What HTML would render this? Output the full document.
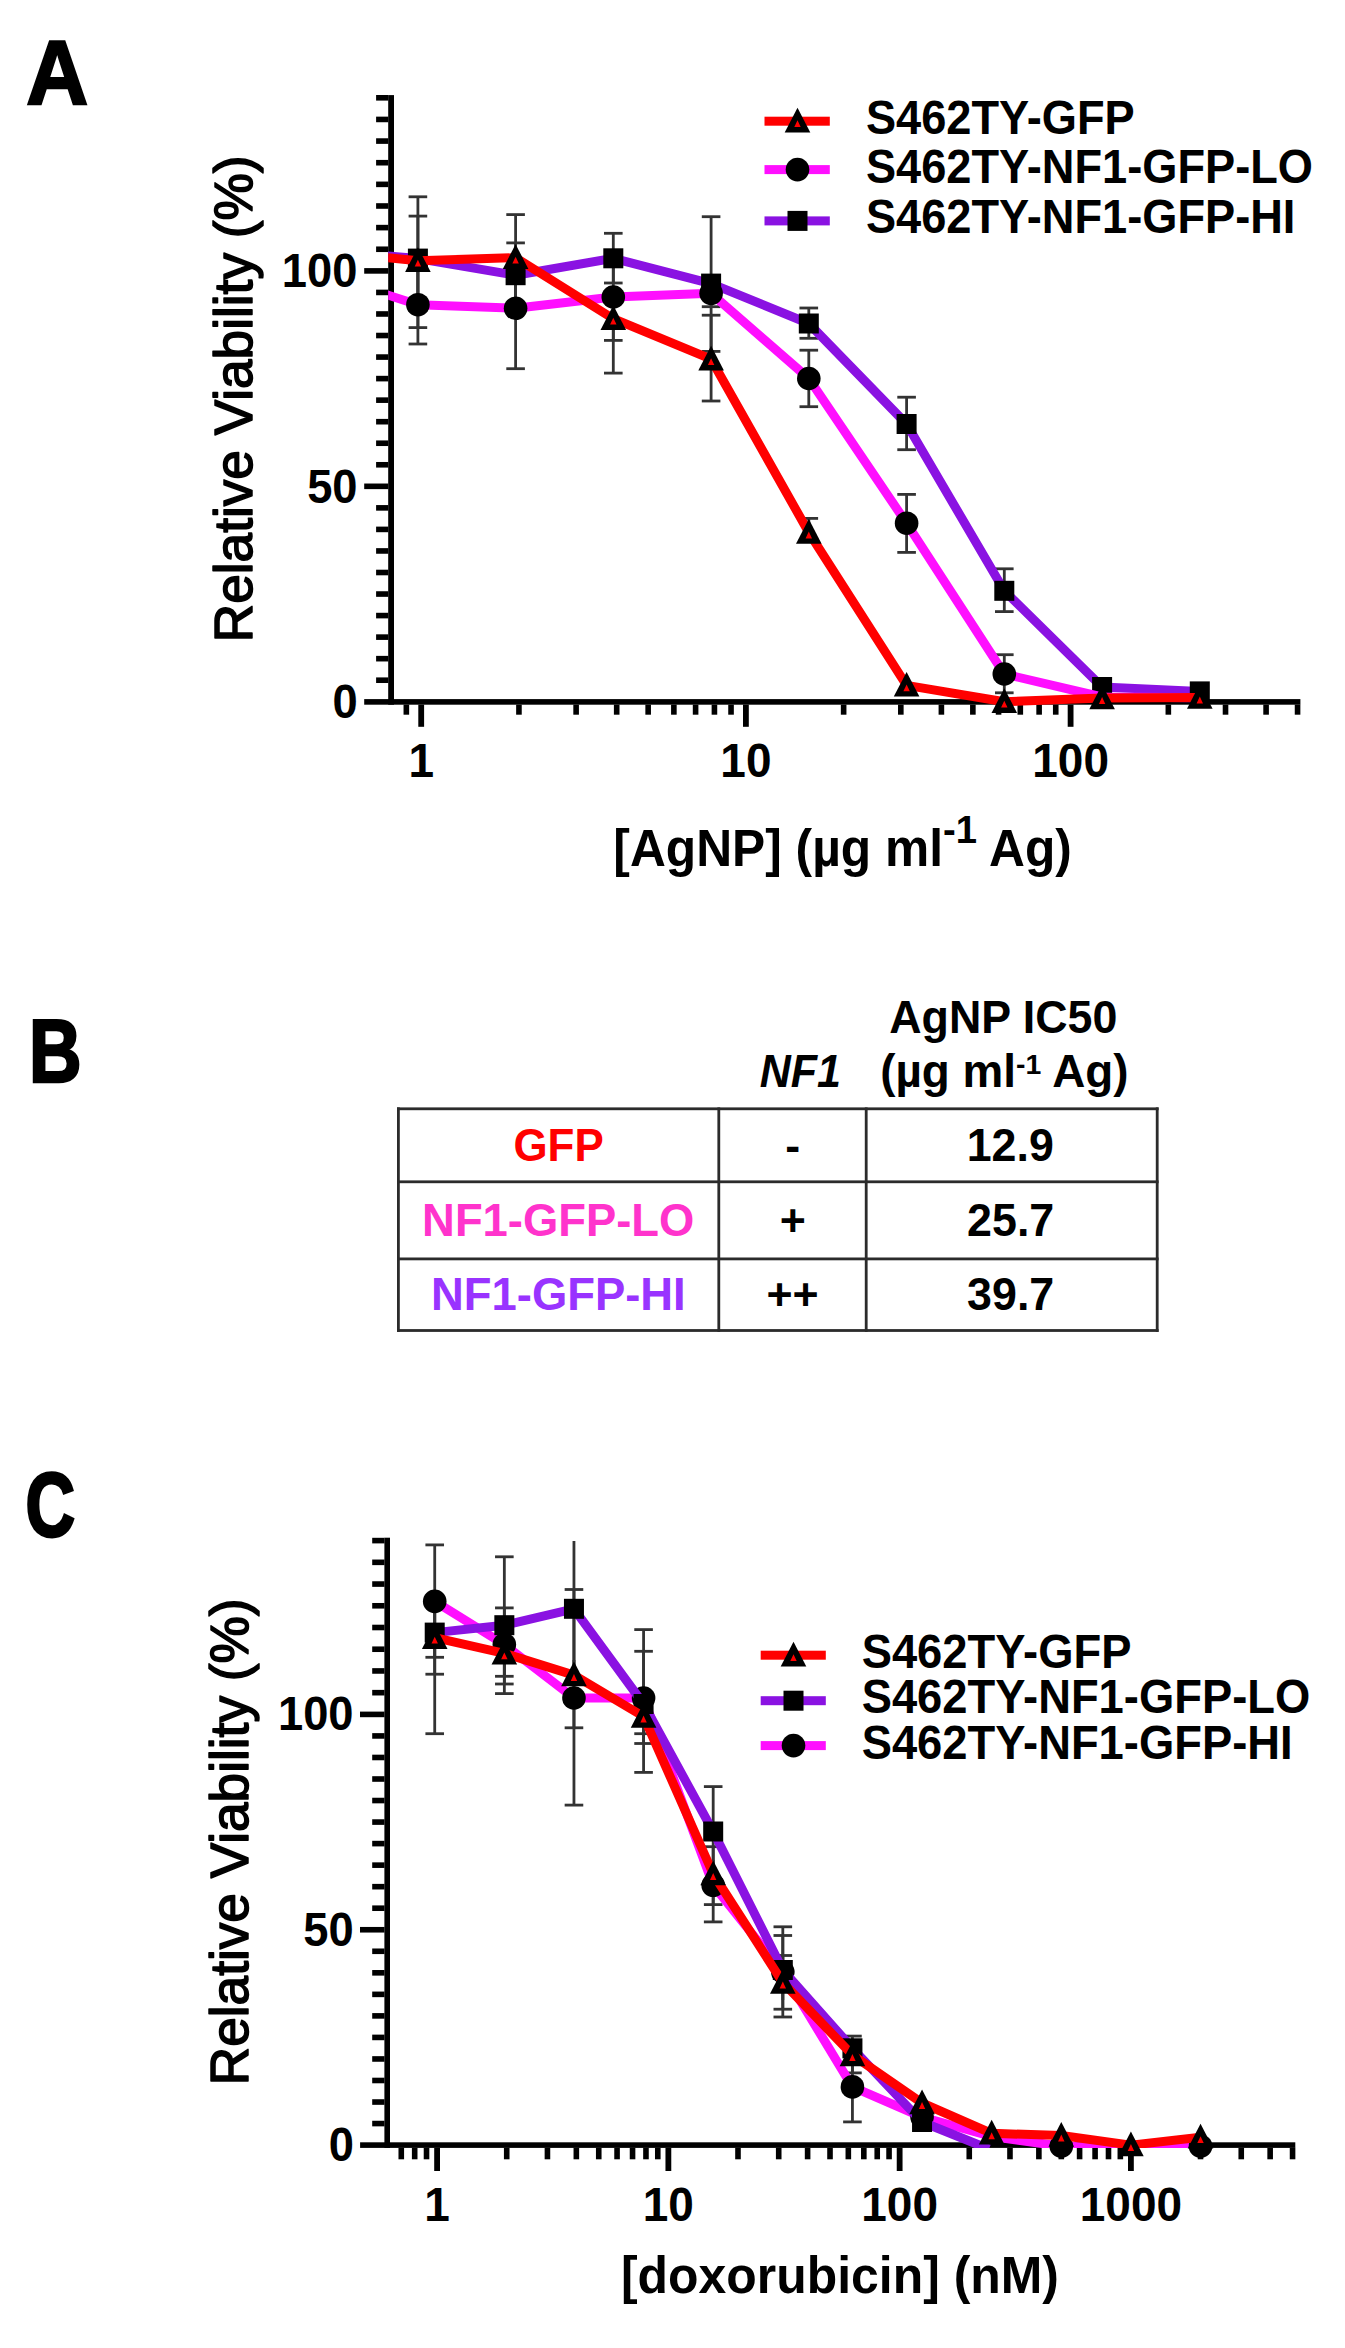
<!DOCTYPE html>
<html lang="en"><head><meta charset="utf-8"><title>Figure</title>
<style>html,body{margin:0;padding:0;background:#fff}svg{display:block}</style></head>
<body>
<svg width="1345" height="2348" viewBox="0 0 1345 2348" font-family="'Liberation Sans', Arial, sans-serif" shape-rendering="auto">
<rect width="1345" height="2348" fill="#fff"/>
<clipPath id="clipA"><rect x="388.2" y="80" width="940" height="640"/></clipPath>
<rect x="388.20" y="95.10" width="5.80" height="609.60" fill="#000"/>
<rect x="364.20" y="699.10" width="936.20" height="5.60" fill="#000"/>
<rect x="376.10" y="677.41" width="12.20" height="5.60" fill="#000"/>
<rect x="376.10" y="655.87" width="12.20" height="5.60" fill="#000"/>
<rect x="376.10" y="634.32" width="12.20" height="5.60" fill="#000"/>
<rect x="376.10" y="612.78" width="12.20" height="5.60" fill="#000"/>
<rect x="376.10" y="591.24" width="12.20" height="5.60" fill="#000"/>
<rect x="376.10" y="569.70" width="12.20" height="5.60" fill="#000"/>
<rect x="376.10" y="548.15" width="12.20" height="5.60" fill="#000"/>
<rect x="376.10" y="526.61" width="12.20" height="5.60" fill="#000"/>
<rect x="376.10" y="505.07" width="12.20" height="5.60" fill="#000"/>
<rect x="364.20" y="483.52" width="24.10" height="5.60" fill="#000"/>
<rect x="376.10" y="461.98" width="12.20" height="5.60" fill="#000"/>
<rect x="376.10" y="440.44" width="12.20" height="5.60" fill="#000"/>
<rect x="376.10" y="418.90" width="12.20" height="5.60" fill="#000"/>
<rect x="376.10" y="397.35" width="12.20" height="5.60" fill="#000"/>
<rect x="376.10" y="375.81" width="12.20" height="5.60" fill="#000"/>
<rect x="376.10" y="354.27" width="12.20" height="5.60" fill="#000"/>
<rect x="376.10" y="332.73" width="12.20" height="5.60" fill="#000"/>
<rect x="376.10" y="311.18" width="12.20" height="5.60" fill="#000"/>
<rect x="376.10" y="289.64" width="12.20" height="5.60" fill="#000"/>
<rect x="364.20" y="268.10" width="24.10" height="5.60" fill="#000"/>
<rect x="376.10" y="246.46" width="12.20" height="5.60" fill="#000"/>
<rect x="376.10" y="224.82" width="12.20" height="5.60" fill="#000"/>
<rect x="376.10" y="203.19" width="12.20" height="5.60" fill="#000"/>
<rect x="376.10" y="181.55" width="12.20" height="5.60" fill="#000"/>
<rect x="376.10" y="159.91" width="12.20" height="5.60" fill="#000"/>
<rect x="376.10" y="138.27" width="12.20" height="5.60" fill="#000"/>
<rect x="376.10" y="116.64" width="12.20" height="5.60" fill="#000"/>
<rect x="376.10" y="95.00" width="12.20" height="5.60" fill="#000"/>
<rect x="418.30" y="704.60" width="5.80" height="22.20" fill="#000"/>
<rect x="516.14" y="704.60" width="5.60" height="10.10" fill="#000"/>
<rect x="573.32" y="704.60" width="5.60" height="10.10" fill="#000"/>
<rect x="613.89" y="704.60" width="5.60" height="10.10" fill="#000"/>
<rect x="645.36" y="704.60" width="5.60" height="10.10" fill="#000"/>
<rect x="671.07" y="704.60" width="5.60" height="10.10" fill="#000"/>
<rect x="692.80" y="704.60" width="5.60" height="10.10" fill="#000"/>
<rect x="711.63" y="704.60" width="5.60" height="10.10" fill="#000"/>
<rect x="728.24" y="704.60" width="5.60" height="10.10" fill="#000"/>
<rect x="743.00" y="704.60" width="5.80" height="22.20" fill="#000"/>
<rect x="840.84" y="704.60" width="5.60" height="10.10" fill="#000"/>
<rect x="898.02" y="704.60" width="5.60" height="10.10" fill="#000"/>
<rect x="938.59" y="704.60" width="5.60" height="10.10" fill="#000"/>
<rect x="970.06" y="704.60" width="5.60" height="10.10" fill="#000"/>
<rect x="995.77" y="704.60" width="5.60" height="10.10" fill="#000"/>
<rect x="1017.50" y="704.60" width="5.60" height="10.10" fill="#000"/>
<rect x="1036.33" y="704.60" width="5.60" height="10.10" fill="#000"/>
<rect x="1052.94" y="704.60" width="5.60" height="10.10" fill="#000"/>
<rect x="1067.70" y="704.60" width="5.80" height="22.20" fill="#000"/>
<rect x="1165.54" y="704.60" width="5.60" height="10.10" fill="#000"/>
<rect x="1222.72" y="704.60" width="5.60" height="10.10" fill="#000"/>
<rect x="1263.29" y="704.60" width="5.60" height="10.10" fill="#000"/>
<rect x="1294.76" y="704.60" width="5.60" height="10.10" fill="#000"/>
<rect x="403.54" y="704.60" width="5.60" height="10.10" fill="#000"/>
<rect x="416.50" y="216.10" width="2.8" height="84.90" fill="#333333"/>
<rect x="408.60" y="214.70" width="18.6" height="2.8" fill="#333333"/>
<rect x="514.20" y="242.90" width="2.8" height="64.10" fill="#333333"/>
<rect x="506.30" y="241.50" width="18.6" height="2.8" fill="#333333"/>
<rect x="506.30" y="305.60" width="18.6" height="2.8" fill="#333333"/>
<rect x="611.90" y="233.30" width="2.8" height="49.70" fill="#333333"/>
<rect x="604.00" y="231.90" width="18.6" height="2.8" fill="#333333"/>
<rect x="604.00" y="281.60" width="18.6" height="2.8" fill="#333333"/>
<rect x="709.70" y="216.70" width="2.8" height="134.70" fill="#333333"/>
<rect x="701.80" y="215.30" width="18.6" height="2.8" fill="#333333"/>
<rect x="701.80" y="350.00" width="18.6" height="2.8" fill="#333333"/>
<rect x="807.40" y="308.00" width="2.8" height="30.30" fill="#333333"/>
<rect x="799.50" y="306.60" width="18.6" height="2.8" fill="#333333"/>
<rect x="799.50" y="336.90" width="18.6" height="2.8" fill="#333333"/>
<rect x="905.20" y="397.20" width="2.8" height="52.50" fill="#333333"/>
<rect x="897.30" y="395.80" width="18.6" height="2.8" fill="#333333"/>
<rect x="897.30" y="448.30" width="18.6" height="2.8" fill="#333333"/>
<rect x="1002.90" y="568.80" width="2.8" height="42.80" fill="#333333"/>
<rect x="995.00" y="567.40" width="18.6" height="2.8" fill="#333333"/>
<rect x="995.00" y="610.20" width="18.6" height="2.8" fill="#333333"/>
<rect x="416.50" y="265.00" width="2.8" height="79.00" fill="#333333"/>
<rect x="408.60" y="342.60" width="18.6" height="2.8" fill="#333333"/>
<rect x="514.20" y="248.00" width="2.8" height="120.70" fill="#333333"/>
<rect x="506.30" y="367.30" width="18.6" height="2.8" fill="#333333"/>
<rect x="611.90" y="260.00" width="2.8" height="80.40" fill="#333333"/>
<rect x="604.00" y="339.00" width="18.6" height="2.8" fill="#333333"/>
<rect x="709.70" y="280.00" width="2.8" height="26.70" fill="#333333"/>
<rect x="701.80" y="305.30" width="18.6" height="2.8" fill="#333333"/>
<rect x="807.40" y="350.20" width="2.8" height="56.50" fill="#333333"/>
<rect x="799.50" y="348.80" width="18.6" height="2.8" fill="#333333"/>
<rect x="799.50" y="405.30" width="18.6" height="2.8" fill="#333333"/>
<rect x="905.20" y="494.40" width="2.8" height="58.00" fill="#333333"/>
<rect x="897.30" y="493.00" width="18.6" height="2.8" fill="#333333"/>
<rect x="897.30" y="551.00" width="18.6" height="2.8" fill="#333333"/>
<rect x="1002.90" y="654.70" width="2.8" height="38.10" fill="#333333"/>
<rect x="995.00" y="653.30" width="18.6" height="2.8" fill="#333333"/>
<rect x="995.00" y="691.40" width="18.6" height="2.8" fill="#333333"/>
<rect x="416.50" y="196.80" width="2.8" height="130.80" fill="#333333"/>
<rect x="408.60" y="195.40" width="18.6" height="2.8" fill="#333333"/>
<rect x="408.60" y="326.20" width="18.6" height="2.8" fill="#333333"/>
<rect x="514.20" y="214.60" width="2.8" height="85.40" fill="#333333"/>
<rect x="506.30" y="213.20" width="18.6" height="2.8" fill="#333333"/>
<rect x="611.90" y="300.00" width="2.8" height="73.10" fill="#333333"/>
<rect x="604.00" y="371.70" width="18.6" height="2.8" fill="#333333"/>
<rect x="709.70" y="315.20" width="2.8" height="85.80" fill="#333333"/>
<rect x="701.80" y="313.80" width="18.6" height="2.8" fill="#333333"/>
<rect x="701.80" y="399.60" width="18.6" height="2.8" fill="#333333"/>
<rect x="807.40" y="518.40" width="2.8" height="21.60" fill="#333333"/>
<rect x="799.50" y="517.00" width="18.6" height="2.8" fill="#333333"/>
<polyline points="320.00,250.00 417.90,258.60 515.60,275.20 613.30,258.30 711.10,283.60 808.80,323.50 906.60,424.00 1004.30,590.80 1102.10,687.00 1199.80,691.40" fill="none" stroke="#8a12e2" stroke-width="9" stroke-linejoin="round" stroke-linecap="butt" clip-path="url(#clipA)"/>
<rect x="407.90" y="248.60" width="20" height="20" fill="#000"/>
<rect x="505.60" y="265.20" width="20" height="20" fill="#000"/>
<rect x="603.30" y="248.30" width="20" height="20" fill="#000"/>
<rect x="701.10" y="273.60" width="20" height="20" fill="#000"/>
<rect x="798.80" y="313.50" width="20" height="20" fill="#000"/>
<rect x="896.60" y="414.00" width="20" height="20" fill="#000"/>
<rect x="994.30" y="580.80" width="20" height="20" fill="#000"/>
<rect x="1092.10" y="677.00" width="20" height="20" fill="#000"/>
<rect x="1189.80" y="681.40" width="20" height="20" fill="#000"/>
<polyline points="320.00,273.30 417.90,304.70 515.60,308.30 613.30,297.00 711.10,293.30 808.80,378.50 906.60,523.20 1004.30,674.00 1102.10,697.00 1199.80,697.80" fill="none" stroke="#ff0fff" stroke-width="9" stroke-linejoin="round" stroke-linecap="butt" clip-path="url(#clipA)"/>
<circle cx="417.90" cy="304.70" r="11.8" fill="#000"/>
<circle cx="515.60" cy="308.30" r="11.8" fill="#000"/>
<circle cx="613.30" cy="297.00" r="11.8" fill="#000"/>
<circle cx="711.10" cy="293.30" r="11.8" fill="#000"/>
<circle cx="808.80" cy="378.50" r="11.8" fill="#000"/>
<circle cx="906.60" cy="523.20" r="11.8" fill="#000"/>
<circle cx="1004.30" cy="674.00" r="11.8" fill="#000"/>
<polyline points="320.00,251.00 417.90,260.70 515.60,257.70 613.30,318.70 711.10,359.20 808.80,532.50 906.60,685.40 1004.30,701.70 1102.10,698.00 1199.80,697.50" fill="none" stroke="#ff0000" stroke-width="9" stroke-linejoin="round" stroke-linecap="butt" clip-path="url(#clipA)"/>
<polygon points="417.90,247.20 430.70,271.90 405.10,271.90" fill="#000"/>
<polygon points="417.90,259.70 421.10,266.60 414.70,266.60" fill="#ff0000"/>
<polygon points="515.60,244.20 528.40,268.90 502.80,268.90" fill="#000"/>
<polygon points="515.60,256.70 518.80,263.60 512.40,263.60" fill="#ff0000"/>
<polygon points="613.30,305.20 626.10,329.90 600.50,329.90" fill="#000"/>
<polygon points="613.30,317.70 616.50,324.60 610.10,324.60" fill="#ff0000"/>
<polygon points="711.10,345.70 723.90,370.40 698.30,370.40" fill="#000"/>
<polygon points="711.10,358.20 714.30,365.10 707.90,365.10" fill="#ff0000"/>
<polygon points="808.80,519.00 821.60,543.70 796.00,543.70" fill="#000"/>
<polygon points="808.80,531.50 812.00,538.40 805.60,538.40" fill="#ff0000"/>
<polygon points="906.60,671.90 919.40,696.60 893.80,696.60" fill="#000"/>
<polygon points="906.60,684.40 909.80,691.30 903.40,691.30" fill="#ff0000"/>
<polygon points="1004.30,688.20 1017.10,712.90 991.50,712.90" fill="#000"/>
<polygon points="1004.30,700.70 1007.50,707.60 1001.10,707.60" fill="#ff0000"/>
<polygon points="1102.10,684.50 1114.90,709.20 1089.30,709.20" fill="#000"/>
<polygon points="1102.10,697.00 1105.30,703.90 1098.90,703.90" fill="#ff0000"/>
<polygon points="1199.80,684.00 1212.60,708.70 1187.00,708.70" fill="#000"/>
<polygon points="1199.80,696.50 1203.00,703.40 1196.60,703.40" fill="#ff0000"/>
<rect x="764.50" y="116.70" width="65.30" height="9.00" fill="#ff0000"/>
<polygon points="797.50,107.70 810.30,132.40 784.70,132.40" fill="#000"/>
<polygon points="797.50,120.20 800.70,127.10 794.30,127.10" fill="#ff0000"/>
<rect x="764.50" y="165.10" width="65.30" height="9.00" fill="#ff0fff"/>
<circle cx="797.50" cy="169.60" r="11.8" fill="#000"/>
<rect x="764.50" y="216.40" width="65.30" height="9.00" fill="#8a12e2"/>
<rect x="787.50" y="210.90" width="20" height="20" fill="#000"/>
<rect x="397.00" y="1107.40" width="2.80" height="224.50" fill="#2b2b2b"/>
<rect x="717.40" y="1107.40" width="2.80" height="224.50" fill="#2b2b2b"/>
<rect x="864.80" y="1107.40" width="2.80" height="224.50" fill="#2b2b2b"/>
<rect x="1155.80" y="1107.40" width="2.80" height="224.50" fill="#2b2b2b"/>
<rect x="397.00" y="1107.40" width="761.60" height="2.80" fill="#2b2b2b"/>
<rect x="397.00" y="1180.40" width="761.60" height="2.80" fill="#2b2b2b"/>
<rect x="397.00" y="1257.50" width="761.60" height="2.80" fill="#2b2b2b"/>
<rect x="397.00" y="1329.10" width="761.60" height="2.80" fill="#2b2b2b"/>
<clipPath id="clipC"><rect x="384" y="1500" width="940" height="648"/></clipPath>
<rect x="384.40" y="1537.70" width="5.60" height="610.20" fill="#000"/>
<rect x="360.10" y="2142.30" width="935.20" height="5.60" fill="#000"/>
<rect x="372.20" y="2120.76" width="12.30" height="5.60" fill="#000"/>
<rect x="372.20" y="2099.23" width="12.30" height="5.60" fill="#000"/>
<rect x="372.20" y="2077.69" width="12.30" height="5.60" fill="#000"/>
<rect x="372.20" y="2056.16" width="12.30" height="5.60" fill="#000"/>
<rect x="372.20" y="2034.62" width="12.30" height="5.60" fill="#000"/>
<rect x="372.20" y="2013.09" width="12.30" height="5.60" fill="#000"/>
<rect x="372.20" y="1991.56" width="12.30" height="5.60" fill="#000"/>
<rect x="372.20" y="1970.02" width="12.30" height="5.60" fill="#000"/>
<rect x="372.20" y="1948.48" width="12.30" height="5.60" fill="#000"/>
<rect x="360.00" y="1926.95" width="24.50" height="5.60" fill="#000"/>
<rect x="372.20" y="1905.41" width="12.30" height="5.60" fill="#000"/>
<rect x="372.20" y="1883.88" width="12.30" height="5.60" fill="#000"/>
<rect x="372.20" y="1862.35" width="12.30" height="5.60" fill="#000"/>
<rect x="372.20" y="1840.81" width="12.30" height="5.60" fill="#000"/>
<rect x="372.20" y="1819.27" width="12.30" height="5.60" fill="#000"/>
<rect x="372.20" y="1797.74" width="12.30" height="5.60" fill="#000"/>
<rect x="372.20" y="1776.20" width="12.30" height="5.60" fill="#000"/>
<rect x="372.20" y="1754.67" width="12.30" height="5.60" fill="#000"/>
<rect x="372.20" y="1733.13" width="12.30" height="5.60" fill="#000"/>
<rect x="360.00" y="1711.60" width="24.50" height="5.60" fill="#000"/>
<rect x="372.20" y="1689.88" width="12.30" height="5.60" fill="#000"/>
<rect x="372.20" y="1668.15" width="12.30" height="5.60" fill="#000"/>
<rect x="372.20" y="1646.43" width="12.30" height="5.60" fill="#000"/>
<rect x="372.20" y="1624.70" width="12.30" height="5.60" fill="#000"/>
<rect x="372.20" y="1602.98" width="12.30" height="5.60" fill="#000"/>
<rect x="372.20" y="1581.25" width="12.30" height="5.60" fill="#000"/>
<rect x="372.20" y="1559.53" width="12.30" height="5.60" fill="#000"/>
<rect x="372.20" y="1537.80" width="12.30" height="5.60" fill="#000"/>
<rect x="434.20" y="2147.80" width="5.80" height="23.20" fill="#000"/>
<rect x="503.92" y="2147.80" width="5.60" height="11.50" fill="#000"/>
<rect x="544.64" y="2147.80" width="5.60" height="11.50" fill="#000"/>
<rect x="573.54" y="2147.80" width="5.60" height="11.50" fill="#000"/>
<rect x="595.95" y="2147.80" width="5.60" height="11.50" fill="#000"/>
<rect x="614.26" y="2147.80" width="5.60" height="11.50" fill="#000"/>
<rect x="629.75" y="2147.80" width="5.60" height="11.50" fill="#000"/>
<rect x="643.16" y="2147.80" width="5.60" height="11.50" fill="#000"/>
<rect x="654.99" y="2147.80" width="5.60" height="11.50" fill="#000"/>
<rect x="665.47" y="2147.80" width="5.80" height="23.20" fill="#000"/>
<rect x="735.19" y="2147.80" width="5.60" height="11.50" fill="#000"/>
<rect x="775.91" y="2147.80" width="5.60" height="11.50" fill="#000"/>
<rect x="804.81" y="2147.80" width="5.60" height="11.50" fill="#000"/>
<rect x="827.22" y="2147.80" width="5.60" height="11.50" fill="#000"/>
<rect x="845.53" y="2147.80" width="5.60" height="11.50" fill="#000"/>
<rect x="861.02" y="2147.80" width="5.60" height="11.50" fill="#000"/>
<rect x="874.43" y="2147.80" width="5.60" height="11.50" fill="#000"/>
<rect x="886.26" y="2147.80" width="5.60" height="11.50" fill="#000"/>
<rect x="896.74" y="2147.80" width="5.80" height="23.20" fill="#000"/>
<rect x="966.46" y="2147.80" width="5.60" height="11.50" fill="#000"/>
<rect x="1007.18" y="2147.80" width="5.60" height="11.50" fill="#000"/>
<rect x="1036.08" y="2147.80" width="5.60" height="11.50" fill="#000"/>
<rect x="1058.49" y="2147.80" width="5.60" height="11.50" fill="#000"/>
<rect x="1076.80" y="2147.80" width="5.60" height="11.50" fill="#000"/>
<rect x="1092.29" y="2147.80" width="5.60" height="11.50" fill="#000"/>
<rect x="1105.70" y="2147.80" width="5.60" height="11.50" fill="#000"/>
<rect x="1117.53" y="2147.80" width="5.60" height="11.50" fill="#000"/>
<rect x="1128.01" y="2147.80" width="5.80" height="23.20" fill="#000"/>
<rect x="1197.73" y="2147.80" width="5.60" height="11.50" fill="#000"/>
<rect x="1238.45" y="2147.80" width="5.60" height="11.50" fill="#000"/>
<rect x="1267.35" y="2147.80" width="5.60" height="11.50" fill="#000"/>
<rect x="1289.76" y="2147.80" width="5.60" height="11.50" fill="#000"/>
<rect x="398.48" y="2147.80" width="5.60" height="11.50" fill="#000"/>
<rect x="411.89" y="2147.80" width="5.60" height="11.50" fill="#000"/>
<rect x="423.72" y="2147.80" width="5.60" height="11.50" fill="#000"/>
<rect x="433.32" y="1544.90" width="2.8" height="112.40" fill="#333333"/>
<rect x="425.42" y="1543.50" width="18.6" height="2.8" fill="#333333"/>
<rect x="425.42" y="1655.90" width="18.6" height="2.8" fill="#333333"/>
<rect x="502.94" y="1607.90" width="2.8" height="76.10" fill="#333333"/>
<rect x="495.04" y="1606.50" width="18.6" height="2.8" fill="#333333"/>
<rect x="495.04" y="1682.60" width="18.6" height="2.8" fill="#333333"/>
<rect x="572.56" y="1589.50" width="2.8" height="215.60" fill="#333333"/>
<rect x="564.66" y="1588.10" width="18.6" height="2.8" fill="#333333"/>
<rect x="564.66" y="1803.70" width="18.6" height="2.8" fill="#333333"/>
<rect x="642.18" y="1629.60" width="2.8" height="142.80" fill="#333333"/>
<rect x="634.28" y="1628.20" width="18.6" height="2.8" fill="#333333"/>
<rect x="634.28" y="1771.00" width="18.6" height="2.8" fill="#333333"/>
<rect x="711.79" y="1846.70" width="2.8" height="75.20" fill="#333333"/>
<rect x="703.89" y="1845.30" width="18.6" height="2.8" fill="#333333"/>
<rect x="703.89" y="1920.50" width="18.6" height="2.8" fill="#333333"/>
<rect x="781.41" y="1926.80" width="2.8" height="90.20" fill="#333333"/>
<rect x="773.51" y="1925.40" width="18.6" height="2.8" fill="#333333"/>
<rect x="773.51" y="2015.60" width="18.6" height="2.8" fill="#333333"/>
<rect x="851.03" y="2050.00" width="2.8" height="71.90" fill="#333333"/>
<rect x="843.13" y="2120.50" width="18.6" height="2.8" fill="#333333"/>
<rect x="433.32" y="1600.00" width="2.8" height="74.20" fill="#333333"/>
<rect x="425.42" y="1672.80" width="18.6" height="2.8" fill="#333333"/>
<rect x="502.94" y="1556.80" width="2.8" height="136.80" fill="#333333"/>
<rect x="495.04" y="1555.40" width="18.6" height="2.8" fill="#333333"/>
<rect x="495.04" y="1692.20" width="18.6" height="2.8" fill="#333333"/>
<rect x="572.56" y="1541.00" width="2.8" height="139.00" fill="#333333"/>
<rect x="642.18" y="1651.30" width="2.8" height="92.20" fill="#333333"/>
<rect x="634.28" y="1649.90" width="18.6" height="2.8" fill="#333333"/>
<rect x="634.28" y="1742.10" width="18.6" height="2.8" fill="#333333"/>
<rect x="711.79" y="1786.60" width="2.8" height="83.40" fill="#333333"/>
<rect x="703.89" y="1785.20" width="18.6" height="2.8" fill="#333333"/>
<rect x="781.41" y="1935.50" width="2.8" height="73.70" fill="#333333"/>
<rect x="773.51" y="1934.10" width="18.6" height="2.8" fill="#333333"/>
<rect x="773.51" y="2007.80" width="18.6" height="2.8" fill="#333333"/>
<rect x="851.03" y="2036.10" width="2.8" height="23.90" fill="#333333"/>
<rect x="843.13" y="2034.70" width="18.6" height="2.8" fill="#333333"/>
<rect x="433.32" y="1600.00" width="2.8" height="133.70" fill="#333333"/>
<rect x="425.42" y="1732.30" width="18.6" height="2.8" fill="#333333"/>
<rect x="502.94" y="1630.00" width="2.8" height="46.30" fill="#333333"/>
<rect x="495.04" y="1674.90" width="18.6" height="2.8" fill="#333333"/>
<rect x="572.56" y="1660.00" width="2.8" height="67.80" fill="#333333"/>
<rect x="564.66" y="1726.40" width="18.6" height="2.8" fill="#333333"/>
<rect x="642.18" y="1700.00" width="2.8" height="33.70" fill="#333333"/>
<rect x="634.28" y="1732.30" width="18.6" height="2.8" fill="#333333"/>
<rect x="711.79" y="1860.00" width="2.8" height="44.60" fill="#333333"/>
<rect x="703.89" y="1903.20" width="18.6" height="2.8" fill="#333333"/>
<rect x="781.41" y="1955.50" width="2.8" height="44.50" fill="#333333"/>
<rect x="773.51" y="1954.10" width="18.6" height="2.8" fill="#333333"/>
<rect x="851.03" y="2050.00" width="2.8" height="22.90" fill="#333333"/>
<rect x="843.13" y="2071.50" width="18.6" height="2.8" fill="#333333"/>
<polyline points="434.72,1601.40 504.34,1644.50 573.96,1698.00 643.58,1698.00 713.19,1885.30 782.81,1972.00 852.43,2086.90 922.05,2117.00 991.67,2136.50 1061.29,2146.20 1130.91,2148.00 1200.53,2146.20" fill="none" stroke="#ff0fff" stroke-width="9" stroke-linejoin="round" stroke-linecap="butt" clip-path="url(#clipC)"/>
<circle cx="434.72" cy="1601.40" r="11.8" fill="#000"/>
<circle cx="504.34" cy="1644.50" r="11.8" fill="#000"/>
<circle cx="573.96" cy="1698.00" r="11.8" fill="#000"/>
<circle cx="643.58" cy="1698.00" r="11.8" fill="#000"/>
<circle cx="713.19" cy="1885.30" r="11.8" fill="#000"/>
<circle cx="782.81" cy="1972.00" r="11.8" fill="#000"/>
<circle cx="852.43" cy="2086.90" r="11.8" fill="#000"/>
<circle cx="922.05" cy="2117.00" r="11.8" fill="#000"/>
<circle cx="1061.29" cy="2146.20" r="11.8" fill="#000"/>
<circle cx="1200.53" cy="2146.20" r="11.8" fill="#000"/>
<polyline points="434.72,1632.60 504.34,1625.20 573.96,1608.80 643.58,1704.00 713.19,1831.50 782.81,1970.00 852.43,2048.30 922.05,2122.00 989.00,2149.00" fill="none" stroke="#8a12e2" stroke-width="9" stroke-linejoin="round" stroke-linecap="butt" clip-path="url(#clipC)"/>
<rect x="424.72" y="1622.60" width="20" height="20" fill="#000"/>
<rect x="494.34" y="1615.20" width="20" height="20" fill="#000"/>
<rect x="563.96" y="1598.80" width="20" height="20" fill="#000"/>
<rect x="633.58" y="1694.00" width="20" height="20" fill="#000"/>
<rect x="703.19" y="1821.50" width="20" height="20" fill="#000"/>
<rect x="772.81" y="1960.00" width="20" height="20" fill="#000"/>
<rect x="842.43" y="2038.30" width="20" height="20" fill="#000"/>
<rect x="912.05" y="2112.00" width="20" height="20" fill="#000"/>
<polyline points="434.72,1637.70 504.34,1653.40 573.96,1675.10 643.58,1716.50 713.19,1874.00 782.81,1982.50 852.43,2055.00 922.05,2103.00 991.67,2133.30 1061.29,2135.50 1130.91,2145.10 1200.53,2137.20" fill="none" stroke="#ff0000" stroke-width="9" stroke-linejoin="round" stroke-linecap="butt" clip-path="url(#clipC)"/>
<polygon points="434.72,1624.20 447.52,1648.90 421.92,1648.90" fill="#000"/>
<polygon points="434.72,1636.70 437.92,1643.60 431.52,1643.60" fill="#ff0000"/>
<polygon points="504.34,1639.90 517.14,1664.60 491.54,1664.60" fill="#000"/>
<polygon points="504.34,1652.40 507.54,1659.30 501.14,1659.30" fill="#ff0000"/>
<polygon points="573.96,1661.60 586.76,1686.30 561.16,1686.30" fill="#000"/>
<polygon points="573.96,1674.10 577.16,1681.00 570.76,1681.00" fill="#ff0000"/>
<polygon points="643.58,1703.00 656.38,1727.70 630.78,1727.70" fill="#000"/>
<polygon points="643.58,1715.50 646.78,1722.40 640.38,1722.40" fill="#ff0000"/>
<polygon points="713.19,1860.50 725.99,1885.20 700.39,1885.20" fill="#000"/>
<polygon points="713.19,1873.00 716.39,1879.90 709.99,1879.90" fill="#ff0000"/>
<polygon points="782.81,1969.00 795.61,1993.70 770.01,1993.70" fill="#000"/>
<polygon points="782.81,1981.50 786.01,1988.40 779.61,1988.40" fill="#ff0000"/>
<polygon points="852.43,2041.50 865.23,2066.20 839.63,2066.20" fill="#000"/>
<polygon points="852.43,2054.00 855.63,2060.90 849.23,2060.90" fill="#ff0000"/>
<polygon points="922.05,2089.50 934.85,2114.20 909.25,2114.20" fill="#000"/>
<polygon points="922.05,2102.00 925.25,2108.90 918.85,2108.90" fill="#ff0000"/>
<polygon points="991.67,2119.80 1004.47,2144.50 978.87,2144.50" fill="#000"/>
<polygon points="991.67,2132.30 994.87,2139.20 988.47,2139.20" fill="#ff0000"/>
<polygon points="1061.29,2122.00 1074.09,2146.70 1048.49,2146.70" fill="#000"/>
<polygon points="1061.29,2134.50 1064.49,2141.40 1058.09,2141.40" fill="#ff0000"/>
<polygon points="1130.91,2131.60 1143.71,2156.30 1118.11,2156.30" fill="#000"/>
<polygon points="1130.91,2144.10 1134.11,2151.00 1127.71,2151.00" fill="#ff0000"/>
<polygon points="1200.53,2123.70 1213.33,2148.40 1187.73,2148.40" fill="#000"/>
<polygon points="1200.53,2136.20 1203.73,2143.10 1197.33,2143.10" fill="#ff0000"/>
<rect x="760.70" y="1650.70" width="65.10" height="9.00" fill="#ff0000"/>
<polygon points="793.50,1641.70 806.30,1666.40 780.70,1666.40" fill="#000"/>
<polygon points="793.50,1654.20 796.70,1661.10 790.30,1661.10" fill="#ff0000"/>
<rect x="760.70" y="1696.20" width="65.10" height="9.00" fill="#8a12e2"/>
<rect x="783.50" y="1690.70" width="20" height="20" fill="#000"/>
<rect x="760.70" y="1741.10" width="65.10" height="9.00" fill="#ff0fff"/>
<circle cx="793.50" cy="1745.60" r="11.8" fill="#000"/>
<text transform="translate(865.94,134.40) scale(1,1.0770)" font-size="45.21" font-weight="bold" font-style="normal" fill="#000" >S462TY-GFP</text>
<text transform="translate(865.94,182.80) scale(1,1.0770)" font-size="45.21" font-weight="bold" font-style="normal" fill="#000" >S462TY-NF1-GFP-LO</text>
<text transform="translate(865.94,233.40) scale(1,1.0770)" font-size="45.21" font-weight="bold" font-style="normal" fill="#000" >S462TY-NF1-GFP-HI</text>
<text transform="translate(281.76,286.80) scale(1,1.0558)" font-size="45.30" font-weight="bold" font-style="normal" fill="#000" >100</text>
<text transform="translate(307.13,502.72) scale(1,1.0558)" font-size="45.30" font-weight="bold" font-style="normal" fill="#000" >50</text>
<text transform="translate(332.50,718.15) scale(1,1.0558)" font-size="45.30" font-weight="bold" font-style="normal" fill="#000" >0</text>
<text transform="translate(408.41,777.00) scale(1,1.0491)" font-size="46.00" font-weight="bold" font-style="normal" fill="#000" >1</text>
<text transform="translate(720.32,777.00) scale(1,1.0491)" font-size="46.00" font-weight="bold" font-style="normal" fill="#000" >10</text>
<text transform="translate(1032.24,777.00) scale(1,1.0491)" font-size="46.00" font-weight="bold" font-style="normal" fill="#000" >100</text>
<text transform="translate(251.60,642.26) rotate(-90) scale(1,1.0000)" font-size="53.20" font-weight="normal" font-style="normal" fill="#000" stroke="#000" stroke-width="1.5" stroke-linejoin="round">Relative Viability (%)</text>
<text transform="translate(613.32,866.40) scale(1,1.0347)" font-size="49.73" font-weight="bold" font-style="normal" fill="#000" >[AgNP] (µg ml<tspan font-size="38.29" dy="-22.87">-1</tspan><tspan dy="22.87"> Ag)</tspan></text>
<text transform="translate(513.44,1160.80) scale(1,1.0390)" font-size="43.94" font-weight="bold" font-style="normal" fill="#ff0000" >GFP</text>
<text transform="translate(422.12,1235.80) scale(1,1.0063)" font-size="45.37" font-weight="bold" font-style="normal" fill="#ff33cc" >NF1-GFP-LO</text>
<text transform="translate(431.02,1310.20) scale(1,1.0053)" font-size="45.41" font-weight="bold" font-style="normal" fill="#9933ff" >NF1-GFP-HI</text>
<text transform="translate(759.64,1087.30) scale(1,1.0607)" font-size="43.04" font-weight="bold" font-style="italic" fill="#000" >NF1</text>
<text transform="translate(889.26,1032.80) scale(1,1.0195)" font-size="44.78" font-weight="bold" font-style="normal" fill="#000" >AgNP IC50</text>
<text transform="translate(880.21,1087.30) scale(1,0.9966)" font-size="45.81" font-weight="bold" font-style="normal" fill="#000" >(µg ml<tspan font-size="28.40" dy="-13.74">-1</tspan><tspan dy="13.74"> Ag)</tspan></text>
<text transform="translate(966.71,1160.60) scale(1,1.0200)" font-size="44.76" font-weight="bold" font-style="normal" fill="#000" >12.9</text>
<text transform="translate(967.06,1236.00) scale(1,1.0187)" font-size="44.81" font-weight="bold" font-style="normal" fill="#000" >25.7</text>
<text transform="translate(967.10,1310.40) scale(1,1.0193)" font-size="44.79" font-weight="bold" font-style="normal" fill="#000" >39.7</text>
<text transform="translate(785.22,1160.60) scale(1,1.0000)" font-size="44.70" font-weight="bold" font-style="normal" fill="#000" >-</text>
<text transform="translate(779.64,1236.00) scale(1,1.0000)" font-size="44.70" font-weight="bold" font-style="normal" fill="#000" >+</text>
<text transform="translate(766.45,1310.40) scale(1,1.0000)" font-size="44.70" font-weight="bold" font-style="normal" fill="#000" >++</text>
<text transform="translate(861.64,1667.80) scale(1,1.0670)" font-size="45.37" font-weight="bold" font-style="normal" fill="#000" >S462TY-GFP</text>
<text transform="translate(861.64,1713.00) scale(1,1.0670)" font-size="45.37" font-weight="bold" font-style="normal" fill="#000" >S462TY-NF1-GFP-LO</text>
<text transform="translate(861.64,1758.60) scale(1,1.0670)" font-size="45.37" font-weight="bold" font-style="normal" fill="#000" >S462TY-NF1-GFP-HI</text>
<text transform="translate(277.96,1729.90) scale(1,1.0558)" font-size="45.30" font-weight="bold" font-style="normal" fill="#000" >100</text>
<text transform="translate(303.33,1945.95) scale(1,1.0558)" font-size="45.30" font-weight="bold" font-style="normal" fill="#000" >50</text>
<text transform="translate(328.70,2161.30) scale(1,1.0558)" font-size="45.30" font-weight="bold" font-style="normal" fill="#000" >0</text>
<text transform="translate(424.31,2221.00) scale(1,1.0491)" font-size="46.00" font-weight="bold" font-style="normal" fill="#000" >1</text>
<text transform="translate(642.79,2221.00) scale(1,1.0491)" font-size="46.00" font-weight="bold" font-style="normal" fill="#000" >10</text>
<text transform="translate(861.28,2221.00) scale(1,1.0491)" font-size="46.00" font-weight="bold" font-style="normal" fill="#000" >100</text>
<text transform="translate(1079.74,2221.00) scale(1,1.0491)" font-size="46.00" font-weight="bold" font-style="normal" fill="#000" >1000</text>
<text transform="translate(247.70,2085.26) rotate(-90) scale(1,1.0000)" font-size="53.20" font-weight="normal" font-style="normal" fill="#000" stroke="#000" stroke-width="1.5" stroke-linejoin="round">Relative Viability (%)</text>
<text transform="translate(621.00,2293.40) scale(1,1.0306)" font-size="49.92" font-weight="bold" font-style="normal" fill="#000" >[doxorubicin] (nM)</text>
<text transform="translate(26.23,103.90) scale(1,1.0528)" font-size="85.76" font-weight="bold" font-style="normal" fill="#000" stroke="#000" stroke-width="2.2" stroke-linejoin="miter">A</text>
<text transform="translate(29.10,1081.90) scale(1,1.2305)" font-size="72.79" font-weight="bold" font-style="normal" fill="#000" stroke="#000" stroke-width="2.2" stroke-linejoin="miter">B</text>
<text transform="translate(25.46,1535.50) scale(1,1.3159)" font-size="68.62" font-weight="bold" font-style="normal" fill="#000" stroke="#000" stroke-width="2.2" stroke-linejoin="miter">C</text>
</svg>
</body></html>
